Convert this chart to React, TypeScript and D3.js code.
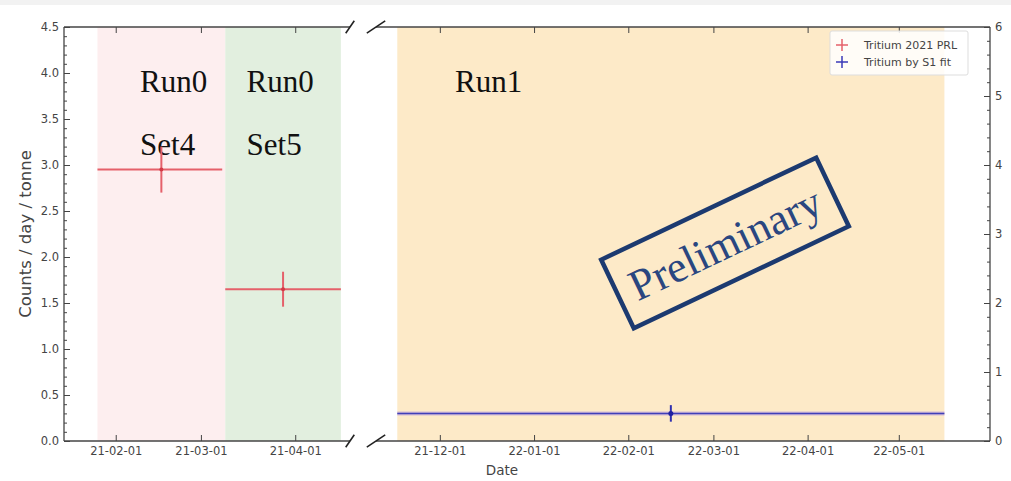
import React, { useRef, useEffect } from 'react';
import * as d3 from 'd3';

// shaded data-taking periods
const bandStarts = ['2021-01-26', '2021-03-09', '2021-11-17'];
const bandEnds = ['2021-03-09', '2021-04-16', '2022-05-16'];
const bandColors = ['#fdeeef', '#e2efdf', '#fdeac8'];

// Tritium 2021 PRL (left axis)
const prlDates = ['2021-02-16', '2021-03-28'];
const prlFrom = ['2021-01-26', '2021-03-09'];
const prlTo = ['2021-03-08', '2021-04-16'];
const prlRate = [2.95, 1.65];
const prlErr = [0.25, 0.19];

// Tritium by S1 fit (right axis)
const s1Dates = ['2022-02-15'];
const s1From = ['2021-11-17'];
const s1To = ['2022-05-16'];
const s1Rate = [0.4];
const s1Err = [0.12];

// the two pieces of the broken date axis
const run0Domain = ['2021-01-15', '2021-04-19'];
const run1Domain = ['2021-11-10', '2022-05-31'];

const leftTicks = [0, 0.5, 1.0, 1.5, 2.0, 2.5, 3.0, 3.5, 4.0, 4.5];
const rightTicks = [0, 1, 2, 3, 4, 5, 6];

const periodLine1 = ['Run0', 'Run0', 'Run1'];
const periodLine2 = ['Set4', 'Set5', ''];
const periodLabelDates = ['2021-02-09', '2021-03-16', '2021-12-06'];
const periodLabelRates = [3.79, 3.11];

const legendLabels = ['Tritium 2021 PRL', 'Tritium by S1 fit'];

const App = () => {
    const ref = useRef<SVGSVGElement>(null);

    useEffect(() => {
        const svg = d3.select(ref.current);
        svg.selectAll('*').remove();

        const W = 1011, H = 481;
        const top = 27, bottom = 441;
        const parse = d3.timeParse('%Y-%m-%d');
        const d = (s: string) => parse(s) as Date;

        const xL = d3.scaleTime().domain(run0Domain.map(d)).range([64, 350]);
        const xR = d3.scaleTime().domain(run1Domain.map(d)).range([376, 990]);
        const xOf = (s: string) => (s < '2021-07-01' ? xL(d(s)) : xR(d(s)));
        const y = d3.scaleLinear().domain([0, 4.5]).range([bottom, top]);
        const y2 = d3.scaleLinear().domain([0, 6]).range([bottom, top]);

        const ink = '#444';
        const font = '"DejaVu Sans", sans-serif';
        const serif = '"Liberation Serif", "Times New Roman", serif';

        svg.append('rect').attr('width', W).attr('height', H).attr('fill', '#fff');
        svg.append('rect').attr('width', W).attr('height', 5).attr('fill', '#f2f2f2');

        // background bands
        bandStarts.forEach((s, i) => {
            svg.append('rect')
                .attr('x', xOf(s))
                .attr('y', top)
                .attr('width', xOf(bandEnds[i]) - xOf(s))
                .attr('height', bottom - top)
                .attr('fill', bandColors[i]);
        });

        // period annotations
        periodLine1.forEach((t, i) => {
            svg.append('text')
                .attr('x', xOf(periodLabelDates[i]))
                .attr('y', y(periodLabelRates[0]))
                .attr('font-family', serif)
                .attr('font-size', 31)
                .attr('fill', '#111')
                .text(t);
            if (periodLine2[i]) {
                svg.append('text')
                    .attr('x', xOf(periodLabelDates[i]))
                    .attr('y', y(periodLabelRates[1]))
                    .attr('font-family', serif)
                    .attr('font-size', 31)
                    .attr('fill', '#111')
                    .text(periodLine2[i]);
            }
        });

        // axes
        const fmt = d3.timeFormat('%y-%m-%d') as (v: any) => string;
        const styleAxis = (g: any, withText = true) => {
            g.select('.domain').remove();
            g.selectAll('line').attr('stroke', ink).attr('stroke-width', 1);
            g.selectAll('text')
                .attr('fill', ink)
                .attr('font-family', font)
                .attr('font-size', 11.5);
            if (!withText) g.selectAll('text').remove();
        };

        [xL, xR].forEach(x => {
            svg.append('g')
                .attr('transform', `translate(0,${bottom})`)
                .call(d3.axisBottom(x).ticks(d3.timeMonth.every(1)).tickFormat(fmt)
                    .tickSizeInner(-6).tickSizeOuter(0).tickPadding(6))
                .call(styleAxis);
            svg.append('g')
                .attr('transform', `translate(0,${top})`)
                .call(d3.axisTop(x).ticks(d3.timeMonth.every(1))
                    .tickSizeInner(-6).tickSizeOuter(0))
                .call((g: any) => styleAxis(g, false));
        });

        svg.append('g')
            .attr('transform', `translate(64,0)`)
            .call(d3.axisLeft(y).tickValues(y.ticks(45)).tickSizeInner(-3).tickSizeOuter(0))
            .call((g: any) => styleAxis(g, false));
        svg.append('g')
            .attr('transform', `translate(64,0)`)
            .call(d3.axisLeft(y).tickValues(leftTicks).tickFormat(d3.format('.1f'))
                .tickSizeInner(-6).tickSizeOuter(0).tickPadding(5))
            .call(styleAxis);

        svg.append('g')
            .attr('transform', `translate(990,0)`)
            .call(d3.axisRight(y2).tickValues(y2.ticks(30)).tickSizeInner(-3).tickSizeOuter(0))
            .call((g: any) => styleAxis(g, false));
        svg.append('g')
            .attr('transform', `translate(990,0)`)
            .call(d3.axisRight(y2).tickValues(rightTicks).tickFormat(d3.format('d'))
                .tickSizeInner(-6).tickSizeOuter(0).tickPadding(5))
            .call(styleAxis);

        // spines
        const spine = (x1: number, y1: number, x2: number, y2_: number) =>
            svg.append('line').attr('x1', x1).attr('y1', y1).attr('x2', x2).attr('y2', y2_)
                .attr('stroke', ink).attr('stroke-width', 1.3);
        spine(64, top, 64, bottom);
        spine(990, top, 990, bottom);
        [top, bottom].forEach(yy => {
            spine(64, yy, 350, yy);
            spine(376, yy, 990, yy);
        });

        // break marks
        [[350, 4.3], [376, 9.2]].forEach(([bx, dx]) => {
            [top, bottom].forEach(yy => {
                svg.append('line')
                    .attr('x1', bx - dx).attr('y1', yy + 6.2)
                    .attr('x2', bx + dx).attr('y2', yy - 6.2)
                    .attr('stroke', '#222').attr('stroke-width', 1.6);
            });
        });

        // PRL error bars
        const red = '#e5606a';
        prlDates.forEach((s, i) => {
            const g = svg.append('g');
            g.append('line')
                .attr('x1', xOf(prlFrom[i])).attr('x2', xOf(prlTo[i]))
                .attr('y1', y(prlRate[i])).attr('y2', y(prlRate[i]))
                .attr('stroke', red).attr('stroke-width', 2);
            g.append('line')
                .attr('x1', xOf(s)).attr('x2', xOf(s))
                .attr('y1', y(prlRate[i] - prlErr[i])).attr('y2', y(prlRate[i] + prlErr[i]))
                .attr('stroke', red).attr('stroke-width', 2);
            g.append('circle')
                .attr('cx', xOf(s)).attr('cy', y(prlRate[i])).attr('r', 2)
                .attr('fill', '#d23a46');
        });

        // S1 fit error bars
        s1Dates.forEach((s, i) => {
            const g = svg.append('g');
            g.append('line')
                .attr('x1', xOf(s1From[i])).attr('x2', xOf(s1To[i]))
                .attr('y1', y2(s1Rate[i])).attr('y2', y2(s1Rate[i]))
                .attr('stroke', '#c0a6dc').attr('stroke-width', 4).attr('opacity', 0.7);
            g.append('line')
                .attr('x1', xOf(s1From[i])).attr('x2', xOf(s1To[i]))
                .attr('y1', y2(s1Rate[i])).attr('y2', y2(s1Rate[i]))
                .attr('stroke', '#4040b8').attr('stroke-width', 1.5);
            g.append('line')
                .attr('x1', xOf(s)).attr('x2', xOf(s))
                .attr('y1', y2(s1Rate[i] - s1Err[i])).attr('y2', y2(s1Rate[i] + s1Err[i]))
                .attr('stroke', '#3030b0').attr('stroke-width', 2);
            g.append('circle')
                .attr('cx', xOf(s)).attr('cy', y2(s1Rate[i])).attr('r', 2.5)
                .attr('fill', '#2020a0');
        });

        // Preliminary stamp
        const stamp = svg.append('g').attr('transform', 'translate(725,243) rotate(-25.4)');
        stamp.append('rect')
            .attr('x', -119).attr('y', -38).attr('width', 238).attr('height', 76)
            .attr('fill', 'none').attr('stroke', '#1c3a70').attr('stroke-width', 4.5);
        stamp.append('text')
            .attr('text-anchor', 'middle').attr('dy', '0.35em')
            .attr('font-family', serif).attr('font-size', 44)
            .attr('fill', '#2a4680')
            .text('Preliminary');

        // legend
        const lg = svg.append('g').attr('transform', 'translate(830,31)');
        lg.append('rect')
            .attr('width', 138).attr('height', 44).attr('rx', 2)
            .attr('fill', '#fff').attr('fill-opacity', 0.85)
            .attr('stroke', '#ddd');
        legendLabels.forEach((t, i) => {
            const c = i === 0 ? red : '#3a3ab8';
            const cy = 14 + i * 17;
            lg.append('line').attr('x1', 6).attr('x2', 18).attr('y1', cy).attr('y2', cy)
                .attr('stroke', c).attr('stroke-width', 1.5);
            lg.append('line').attr('x1', 12).attr('x2', 12).attr('y1', cy - 6).attr('y2', cy + 6)
                .attr('stroke', c).attr('stroke-width', 1.5);
            lg.append('text')
                .attr('x', 34).attr('y', cy).attr('dy', '0.35em')
                .attr('font-family', font).attr('font-size', 11)
                .attr('fill', ink)
                .text(t);
        });

        // axis titles
        svg.append('text')
            .attr('transform', `translate(31,${(top + bottom) / 2}) rotate(-90)`)
            .attr('text-anchor', 'middle')
            .attr('font-family', font).attr('font-size', 16.5)
            .attr('fill', ink)
            .text('Counts / day / tonne');
        svg.append('text')
            .attr('x', 502).attr('y', 475)
            .attr('text-anchor', 'middle')
            .attr('font-family', font).attr('font-size', 13.5)
            .attr('fill', ink)
            .text('Date');
    }, []);

    return (
        <svg ref={ref} width={1011} height={481}
            style={{ position: 'absolute', left: 0, top: 0, display: 'block' }} />
    );
};

export default App;
